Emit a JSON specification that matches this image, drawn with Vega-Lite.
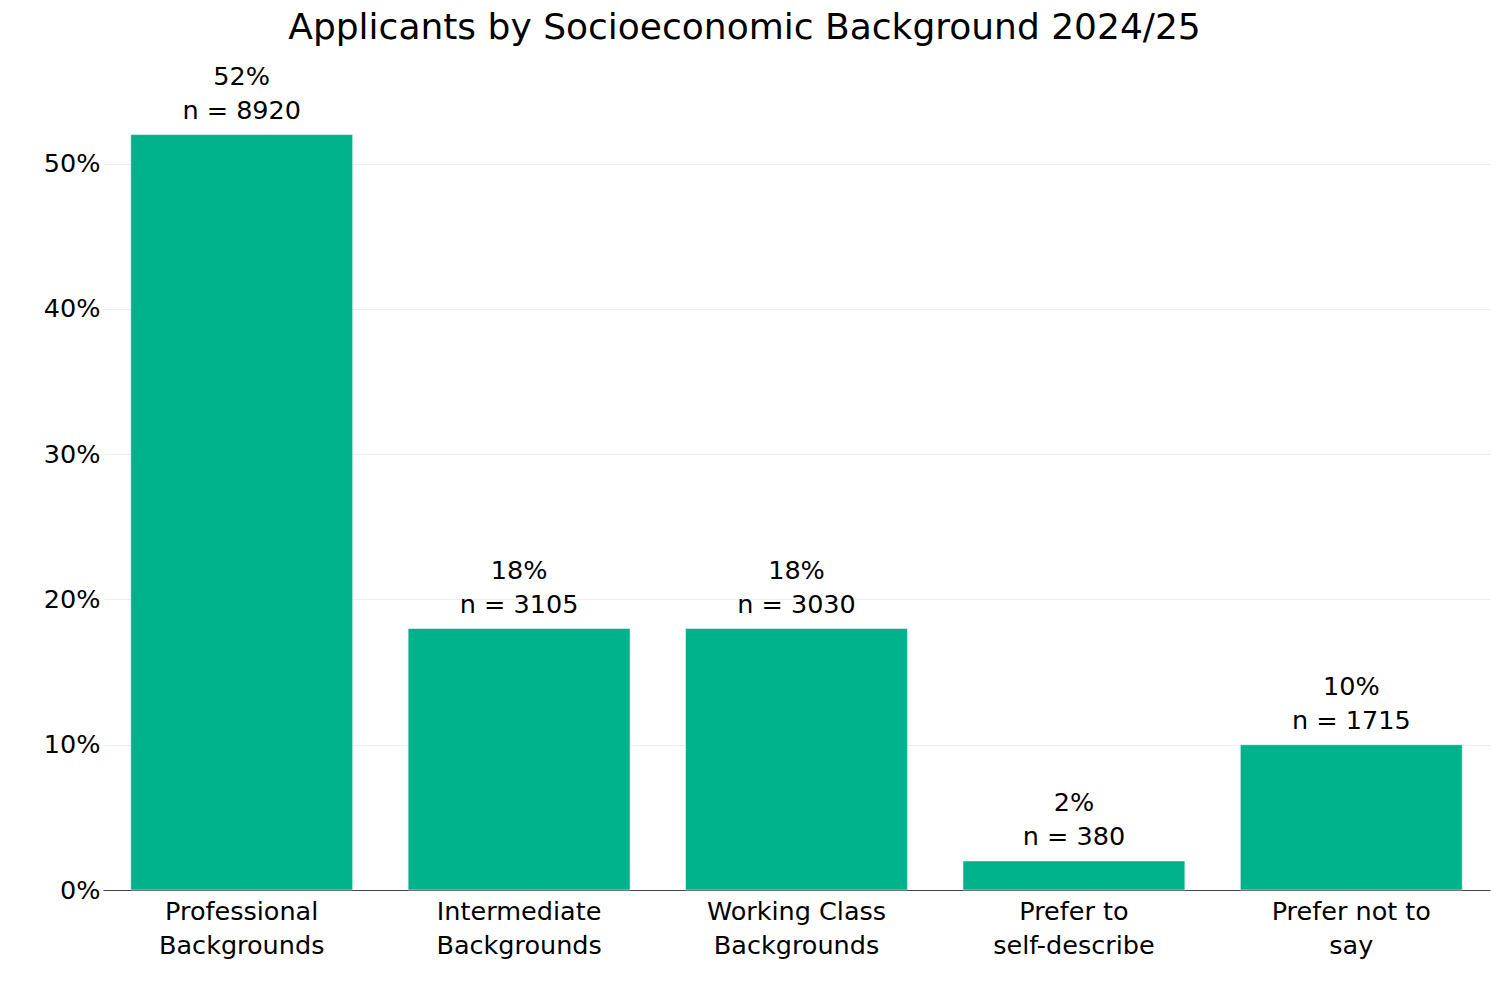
{
  "$schema": "https://vega.github.io/schema/vega-lite/v6.json",
  "autosize": {"type": "none"},
  "padding": {"left": 103, "top": 91, "right": 8, "bottom": 108},
  "width": 1387,
  "height": 799,
  "background": "white",
  "title": {
    "text": "Applicants by Socioeconomic Background 2024/25",
    "frame": "group",
    "anchor": "middle",
    "dx": -52,
    "offset": 18,
    "font": "DejaVu Sans",
    "fontSize": 36,
    "fontWeight": "normal",
    "color": "#000"
  },
  "data": {
    "values": [
      {"background": "Professional\nBackgrounds", "pct": 52, "n": 8920, "label": "52%\nn = 8920"},
      {"background": "Intermediate\nBackgrounds", "pct": 18, "n": 3105, "label": "18%\nn = 3105"},
      {"background": "Working Class\nBackgrounds", "pct": 18, "n": 3030, "label": "18%\nn = 3030"},
      {"background": "Prefer to\nself-describe", "pct": 2, "n": 380, "label": "2%\nn = 380"},
      {"background": "Prefer not to\nsay", "pct": 10, "n": 1715, "label": "10%\nn = 1715"}
    ]
  },
  "encoding": {
    "x": {
      "field": "background",
      "type": "nominal",
      "sort": null,
      "scale": {"paddingInner": 0.2, "paddingOuter": 0.1},
      "axis": {
        "title": null,
        "labelAngle": 0,
        "labelExpr": "split(datum.label, '\\n')",
        "labelLineHeight": 34,
        "labelFont": "DejaVu Sans",
        "labelFontSize": 25.5,
        "labelColor": "#000",
        "labelPadding": 9,
        "labelBaseline": "top",
        "ticks": false,
        "domain": true,
        "domainColor": "#444",
        "domainWidth": 1,
        "grid": false
      }
    },
    "y": {
      "field": "pct",
      "type": "quantitative",
      "scale": {"domain": [0, 55], "nice": false},
      "axis": {
        "title": null,
        "values": [0, 10, 20, 30, 40, 50],
        "labelExpr": "datum.value + '%'",
        "labelFont": "DejaVu Sans",
        "labelFontSize": 25.5,
        "labelColor": "#000",
        "labelPadding": 3,
        "ticks": false,
        "domain": false,
        "grid": true,
        "gridColor": "#eeeeee",
        "gridWidth": 1
      }
    }
  },
  "layer": [
    {
      "mark": {"type": "bar", "color": "#00b28c", "stroke": "#ffffff", "strokeWidth": 0.5}
    },
    {
      "mark": {
        "type": "text",
        "lineBreak": "\n",
        "lineHeight": 34,
        "baseline": "bottom",
        "dy": -45,
        "font": "DejaVu Sans",
        "fontSize": 25.5,
        "color": "#000"
      },
      "encoding": {"text": {"field": "label"}}
    }
  ],
  "config": {
    "view": {"stroke": null}
  }
}
